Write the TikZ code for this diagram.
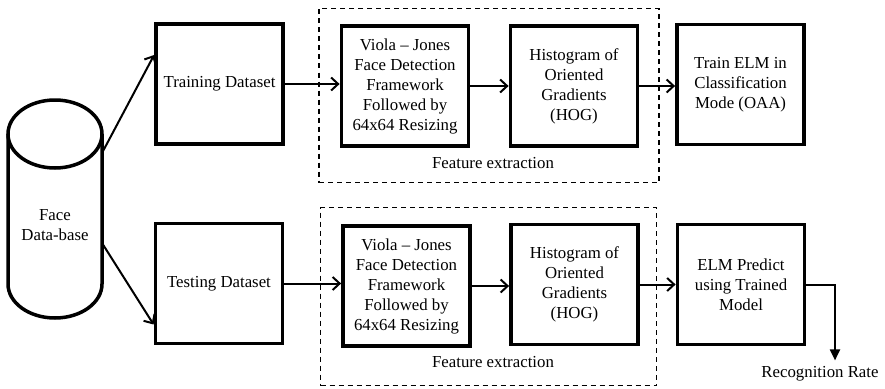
\documentclass[tikz,border=0pt]{standalone}
\usepackage{fontspec}
\setmainfont{Liberation Serif}
\usetikzlibrary{arrows.meta,calc}
\begin{document}
\begin{tikzpicture}[x=1pt,y=-1pt,
  every node/.style={font=\fontsize{16.8}{20}\selectfont, inner sep=0pt},
  stage/.style={draw, line width=3.8pt, align=center, minimum width=127pt, minimum height=120pt},
  group/.style={draw, line width=1.3pt, dash pattern=on 5pt off 4pt, minimum width=340pt},
  flow/.style={line width=2pt, -{Straight Barb[length=7pt,width=13pt,line width=2pt]}},
  result/.style={line width=2pt, -{Triangle[length=11pt,width=10pt]}},
  cyl/.style={line width=3.5pt}
]
\useasboundingbox (0,0) rectangle (885,388);

% dashed feature-extraction groups
\node[group, minimum width=340pt, minimum height=174pt] (fe1) at (489,95.5) {};
\node[group, minimum width=336pt, minimum height=178pt] (fe2) at (488.5,296.5) {};
\node (fel1) at (493,163) {Feature extraction};
\node (fel2) at (493,362) {Feature extraction};

% database cylinder
\draw[cyl] (55,134) ellipse [x radius=47pt, y radius=34pt];
\draw[cyl] (8,134) -- (8,284) arc[start angle=180, end angle=360, x radius=47pt, y radius=34pt] -- (102,134);
\node[align=center] (db) at (55,225) {Face\\Data-base};
\coordinate (dbup) at (102,153);
\coordinate (dbdown) at (102,243);

% training row
\node[stage] (train) at (219.5,84) {Training Dataset};
\node[stage] (vj1) at (405,86) {Viola -- Jones\\Face Detection\\Framework\\Followed by\\64x64 Resizing};
\node[stage] (hog1) at (574,86) {Histogram of\\Oriented\\Gradients\\(HOG)};
\node[stage] (elm1) at (740.5,84.5) {Train ELM in\\Classification\\Mode (OAA)};

% testing row
\node[stage] (test) at (219,283.5) {Testing Dataset};
\node[stage] (vj2) at (406.5,286) {Viola -- Jones\\Face Detection\\Framework\\Followed by\\64x64 Resizing};
\node[stage] (hog2) at (574.5,284.5) {Histogram of\\Oriented\\Gradients\\(HOG)};
\node[stage] (elm2) at (741,284.5) {ELM Predict\\using Trained\\Model};

\node (rr) at (820,374) {Recognition Rate};

% connectors
\draw[flow] (dbup) -- ($(train.west)+(0,-29)$);
\draw[flow] (dbdown) -- ($(test.west)+(0,41)$);
\draw[flow] (train.east) -- (train.east -| vj1.west);
\draw[flow] (vj1.east) -- (vj1.east -| hog1.west);
\draw[flow] (hog1.east) -- (hog1.east -| elm1.west);
\draw[flow] (test.east) -- (test.east -| vj2.west);
\draw[flow] (vj2.east) -- (vj2.east -| hog2.west);
\draw[flow] (hog2.east) -- (hog2.east -| elm2.west);
\draw[result] (elm2.east) -| ($(rr.north)+(15,-6)$);
\end{tikzpicture}
\end{document}
